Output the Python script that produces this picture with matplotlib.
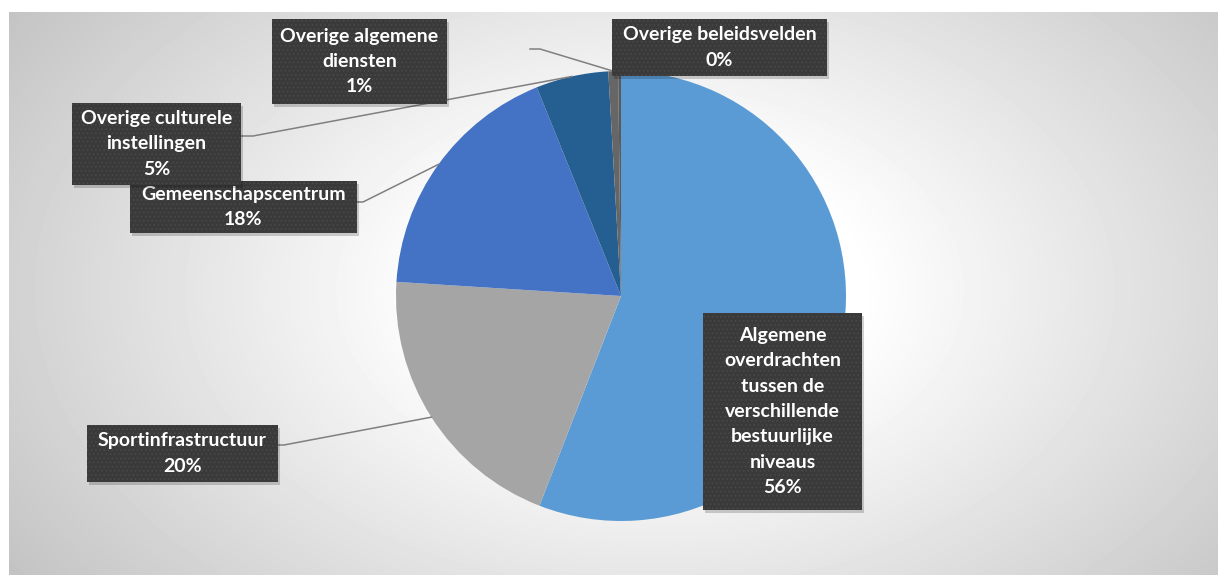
import matplotlib.pyplot as plt
import numpy as np
from matplotlib.patches import Rectangle

# slice data (clockwise from 12 o'clock)
names = [
    'Algemene\noverdrachten\ntussen de\nverschillende\nbestuurlijke\nniveaus',
    'Sportinfrastructuur',
    'Gemeenschapscentrum',
    'Overige culturele\ninstellingen',
    'Overige algemene\ndiensten',
    'Overige beleidsvelden',
]
shares = [55.9, 20.1, 17.9, 5.2, 0.7, 0.2]
colors = ['#5B9BD5', '#A5A5A5', '#4472C4', '#255E91', '#666666', '#5a5a5a']

W, H = 1218, 575
plt.rcParams['font.family'] = ['Lato', 'DejaVu Sans']
plt.rcParams['hatch.linewidth'] = 0.6

fig = plt.figure(figsize=(W / 100, H / 100), dpi=100)
ax = fig.add_axes([0, 0, 1, 1])


def py(y):
    # pixel row -> data y
    return H - y


# background radial gradient
xs = np.arange(9, W) + 0.5
ys = np.arange(12, H) + 0.5
gx, gy = np.meshgrid(xs, ys)
d = np.sqrt(((gx - 650) / 700) ** 2 + ((gy - 290) / 450) ** 2)
shade = np.clip(255 - 74 * np.clip(d - 0.3, 0, None), 0, 255) / 255
ax.imshow(shade, cmap='gray', vmin=0, vmax=1, extent=(9, W, 0, py(12)),
          origin='upper', zorder=0, interpolation='bilinear')

cx, cy, r = 621, 296, 225
wedges, _ = ax.pie(shares, colors=colors, startangle=90, counterclock=False,
                   center=(cx, py(cy)), radius=r,
                   wedgeprops=dict(linewidth=0))
for w in wedges:
    w.set_zorder(2)

ax.set_xlim(0, W)
ax.set_ylim(0, H)
ax.set_aspect('auto')
ax.axis('off')

# label boxes in pixel coords: x0, y0, x1, y1
boxes = [
    (703, 313, 862, 510),
    (87, 425, 278, 482),
    (130, 181, 357, 233),
    (72, 103, 241, 185),
    (272, 19, 447, 104),
    (612, 19, 827, 76),
]
# leader start points (pixel), None = no leader
leaders = [
    None,
    [(278, 445), (284, 445)],
    [(357, 202), (363, 202)],
    [(241, 136), (253, 136)],
    [(530, 49), (540, 49)],
    None,
]

# leader lines to the mid angle of each wedge
cum = np.cumsum([0] + shares)
total = cum[-1]
for i, pts in enumerate(leaders):
    if pts is None:
        continue
    mid = (cum[i] + cum[i + 1]) / 2 / total * 2 * np.pi
    ex, ey = cx + r * np.sin(mid), cy - r * np.cos(mid)
    lx = [p[0] for p in pts] + [ex]
    ly = [py(p[1]) for p in pts] + [py(ey)]
    ax.plot(lx, ly, color='#808080', lw=1.1, zorder=3)

for z, i in enumerate(range(len(names))):
    x0, y0, x1, y1 = boxes[i]
    base = 5 + z * 3
    ax.add_patch(Rectangle((x0 + 2, py(y1 + 3)), x1 - x0, y1 - y0,
                           facecolor='black', alpha=0.18, lw=0, zorder=base))
    ax.add_patch(Rectangle((x0, py(y1)), x1 - x0, y1 - y0,
                           facecolor='#3a3a3a', edgecolor='#4a4a4a', hatch='....',
                           lw=0, zorder=base + 1))
    label = f'{names[i]}\n{shares[i]:.0f}%'
    ax.text((x0 + x1) / 2, py((y0 + y1) / 2), label, color='white',
            fontsize=14, fontweight='bold', ha='center', va='center',
            linespacing=1.6, zorder=base + 2)

fig.savefig('out.png', dpi=100)
